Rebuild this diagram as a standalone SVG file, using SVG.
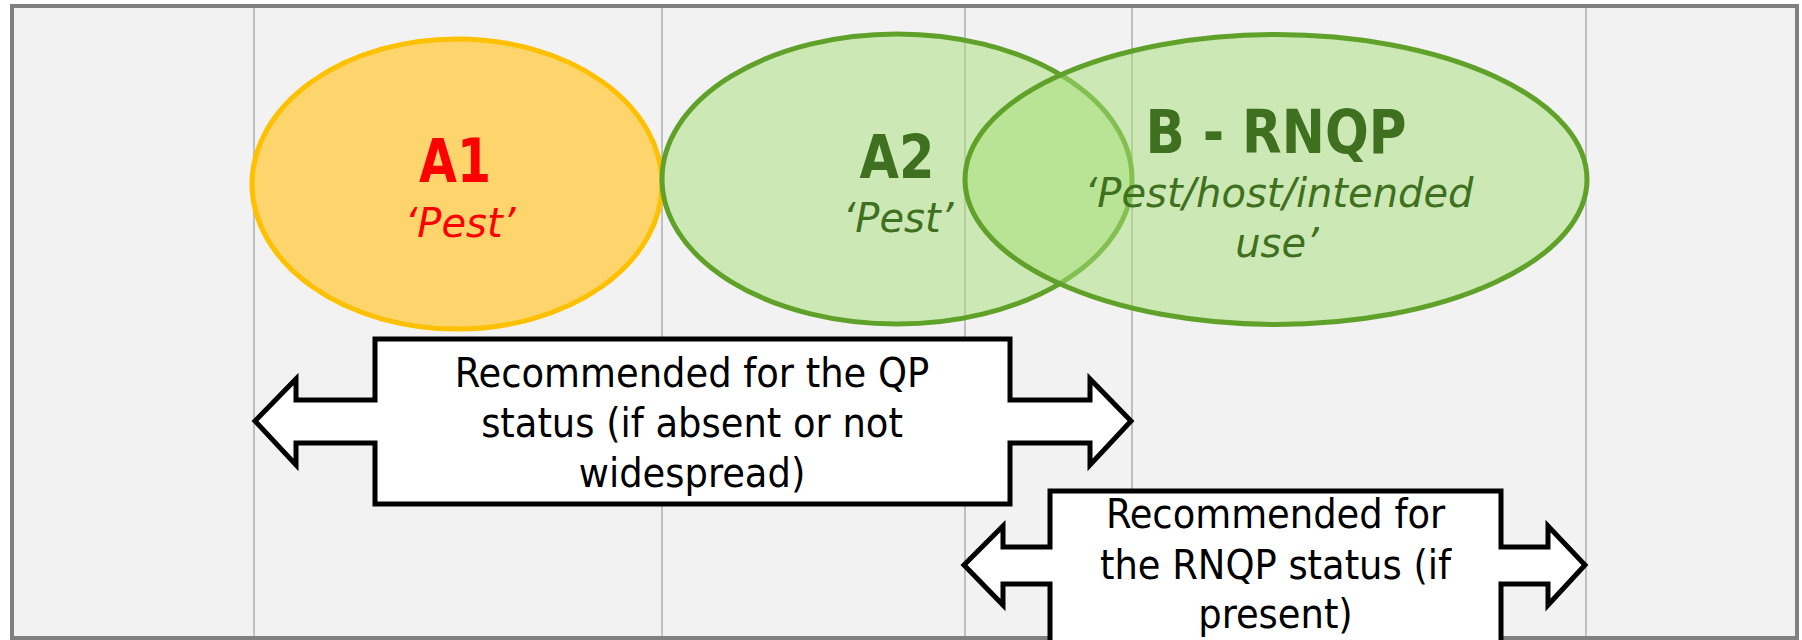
<svg xmlns="http://www.w3.org/2000/svg" width="1802" height="640" viewBox="0 0 1802 640">
<style>
.grid{stroke:#c0c0c0;stroke-width:2}
.title{font-family:"DejaVu Sans Condensed","DejaVu Sans",sans-serif;font-weight:bold;font-size:61px;text-anchor:middle}
.sub{font-family:"DejaVu Sans",sans-serif;font-style:italic;font-size:40px;text-anchor:middle}
.red{fill:#ff0000}
.green{fill:#3f7020}
.arrow{fill:#ffffff;stroke:#000000;stroke-width:5;stroke-linejoin:miter}
.lbl{font-family:"DejaVu Sans Condensed","DejaVu Sans",sans-serif;font-size:41px;text-anchor:middle;fill:#000000}
.gell{fill:#a6e078;fill-opacity:0.5;stroke:#60a12a;stroke-width:5}
</style>
<rect x="0" y="0" width="1802" height="640" fill="#ffffff"/>
<rect x="12" y="6" width="1785" height="640" fill="#f2f2f2"/>
<g id="grid">
<line class="grid" x1="254" y1="8" x2="254" y2="640"/>
<line class="grid" x1="662" y1="8" x2="662" y2="640"/>
<line class="grid" x1="965" y1="8" x2="965" y2="640"/>
<line class="grid" x1="1132" y1="8" x2="1132" y2="640"/>
<line class="grid" x1="1586" y1="8" x2="1586" y2="640"/>
</g>
<rect id="frame" x="12" y="6" width="1785" height="632" fill="none" stroke="#808080" stroke-width="4"/>
<g id="A1">
<ellipse cx="457" cy="184" rx="205" ry="145" fill="#fdd56c" stroke="#ffc000" stroke-width="5"/>
<text class="title red" x="455" y="182" textLength="72" lengthAdjust="spacingAndGlyphs">A1</text>
<text class="sub red" x="460" y="237">‘Pest’</text>
</g>
<g id="A2">
<ellipse class="gell" cx="897" cy="179" rx="235" ry="145"/>
<text class="title green" x="897" y="178" textLength="75" lengthAdjust="spacingAndGlyphs">A2</text>
<text class="sub green" x="898" y="232">‘Pest’</text>
</g>
<g id="B">
<ellipse class="gell" cx="1276" cy="179.5" rx="311" ry="145"/>
<text class="title green" x="1276" y="153" textLength="261" lengthAdjust="spacingAndGlyphs">B - RNQP</text>
<text class="sub green" x="1279" y="207">‘Pest/host/intended</text>
<text class="sub green" x="1277" y="257">use’</text>
</g>
<g id="connectors">
<g id="qp-arrow">
<path class="arrow" d="M 255,421 L 296,379 L 296,400 L 375,400 L 375,339 L 1010,339 L 1010,400 L 1090,400 L 1090,379 L 1131,421 L 1090,465 L 1090,443 L 1010,443 L 1010,504 L 375,504 L 375,443 L 296,443 L 296,465 Z"/>
<text class="lbl" x="692" y="387">Recommended for the QP</text>
<text class="lbl" x="692" y="437">status (if absent or not</text>
<text class="lbl" x="692" y="487">widespread)</text>
</g>
<g id="rnqp-arrow">
<path class="arrow" d="M 964,565 L 1003,526 L 1003,547 L 1050,547 L 1050,491 L 1501,491 L 1501,547 L 1548,547 L 1548,526 L 1585,565 L 1548,605 L 1548,584 L 1501,584 L 1501,665 L 1050,665 L 1050,584 L 1003,584 L 1003,605 Z"/>
<text class="lbl" x="1275.5" y="528">Recommended for</text>
<text class="lbl" x="1275.5" y="579">the RNQP status (if</text>
<text class="lbl" x="1275.5" y="628">present)</text>
</g>
</g>
</svg>
